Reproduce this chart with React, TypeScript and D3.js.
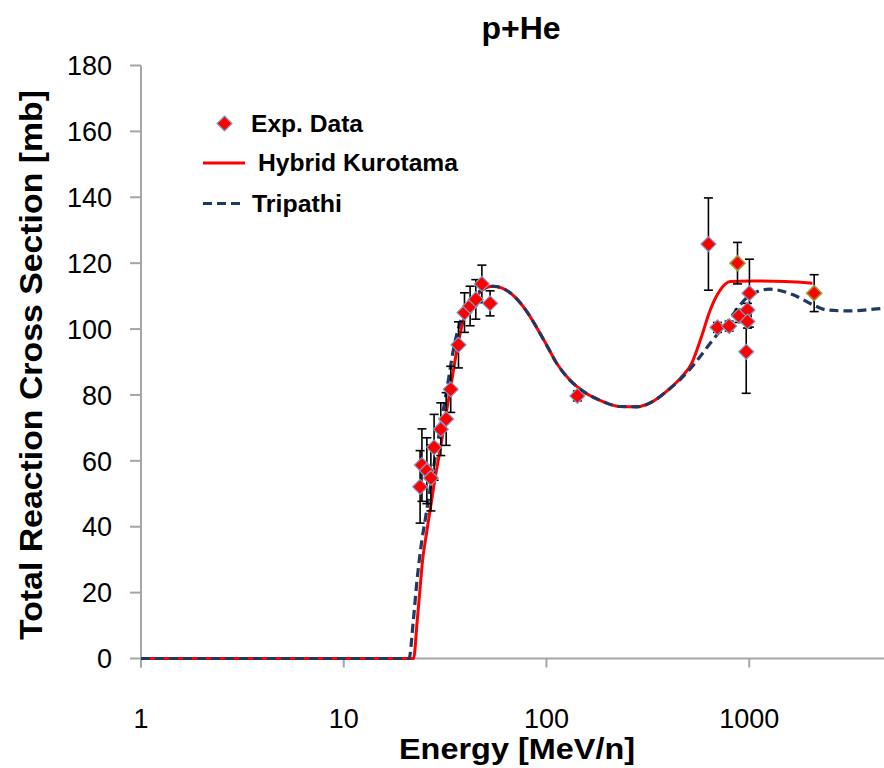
import React from 'react';
import * as d3 from 'd3';

// ---- Data ----
const expEnergy = [23.8, 24.3, 25.7, 26.9, 27.9, 30.1, 32.0, 33.7, 36.8, 39.4, 42.0, 44.8, 48.0, 52.7, 142, 629, 697, 796, 891, 980, 980, 1002, 966];
const expSigma = [52.1, 58.7, 57.0, 54.8, 64.1, 69.6, 72.7, 81.7, 95.2, 105.0, 107.0, 109.0, 113.7, 107.8, 79.7, 125.8, 100.5, 100.9, 104.0, 105.8, 102.3, 110.9, 93.1];
const expError = [11, 11, 10, 10, 10, 8, 8, 7, 7, 6, 6, 6, 5.7, 3.8, 1.5, 14, 1.5, 1.5, 2, 2, 2, 10.3, 12.6];

const exp2Energy = [875, 2090];
const exp2Sigma = [120.0, 110.9];
const exp2Error = [6.3, 5.6];

const kurotamaE = [1, 22.1, 23, 24, 24.5, 25.3, 26.2, 28, 30, 32, 33.5, 36.6, 39.5, 44.4, 49.8, 54, 60, 70, 80, 90, 100, 112, 130, 150, 180, 230, 280, 330, 400, 460, 520, 580, 642, 720, 806, 1000, 1500, 2050];
const kurotamaV = [0, 0, 11, 24, 30, 36, 42, 53.5, 64, 74.5, 81.5, 95.5, 104, 109.4, 112.4, 113, 112.5, 109.7, 105.3, 100.2, 95.2, 89.7, 84.6, 81.3, 78.6, 76.5, 76.4, 77.8, 81.6, 85.2, 89.6, 97.5, 105.8, 111.9, 114.4, 114.6, 114.4, 113.9];

const tripathiE = [1, 21, 22, 23, 23.6, 24.3, 25.2, 27, 28.8, 30.8, 32.2, 35.2, 38.5, 43.5, 49.5, 55, 60, 70, 80, 90, 100, 112, 130, 150, 180, 230, 280, 330, 400, 460, 520, 580, 642, 720, 806, 990, 1263, 1647, 2070, 2410, 3040, 4660, 5000];
const tripathiV = [0, 0, 11, 24, 30, 36, 42, 53.5, 64, 74.5, 81.5, 95.5, 104, 109.4, 112.4, 113, 112.5, 109.7, 105.3, 100.2, 95.2, 89.7, 84.6, 81.3, 78.6, 76.5, 76.4, 77.8, 81.6, 84.9, 88.4, 92.1, 95.7, 99.5, 103.3, 109.9, 112.1, 110.4, 107.3, 105.8, 105.5, 106.3, 106.4];

const yTicks = [0, 20, 40, 60, 80, 100, 120, 140, 160, 180];
const xTicks = [1, 10, 100, 1000];

const W = 884;
const H = 768;

export default function App() {
  const x = d3.scaleLog().domain([1, 10000]).range([141, 952]);
  const y = d3.scaleLinear().domain([0, 180]).range([658.5, 65.5]);

  const line = d3
    .line<[number, number]>()
    .x((d) => x(d[0]))
    .y((d) => y(d[1]))
    .curve(d3.curveMonotoneX);

  const kuro = kurotamaE.map((e, i) => [e, kurotamaV[i]] as [number, number]);
  const trip = tripathiE.map((e, i) => [e, tripathiV[i]] as [number, number]);

  const diamond = (cx: number, cy: number, r: number) =>
    `M${cx},${cy - r}L${cx + r},${cy}L${cx},${cy + r}L${cx - r},${cy}Z`;

  const pts1 = expEnergy.map((e, i) => ({ e, v: expSigma[i], err: expError[i] }));
  const pts2 = exp2Energy.map((e, i) => ({ e, v: exp2Sigma[i], err: exp2Error[i] }));
  const all = [...pts1, ...pts2];

  const font = 'Liberation Sans, Arial, sans-serif';

  return (
    <svg
      width={W}
      height={H}
      style={{ position: 'absolute', left: 0, top: 0, background: '#fff' }}
      fontFamily={font}
    >
      <rect x={0} y={0} width={W} height={H} fill="#fff" />
      {/* title */}
      <text x={521} y={39} textAnchor="middle" fontSize={32} fontWeight="bold" fill="#000">
        p+He
      </text>

      {/* axes */}
      <line x1={x(1)} x2={W} y1={y(0)} y2={y(0)} stroke="#a6a6a6" strokeWidth={2} />
      <line x1={x(1)} x2={x(1)} y1={y(0) + 9} y2={y(180)} stroke="#a6a6a6" strokeWidth={2} />
      {yTicks.map((t) => (
        <g key={'y' + t}>
          <line x1={x(1) - 11} x2={x(1)} y1={y(t)} y2={y(t)} stroke="#a6a6a6" strokeWidth={2} />
          <text x={112} y={y(t)} dy="0.36em" textAnchor="end" fontSize={27} fill="#000">
            {t}
          </text>
        </g>
      ))}
      {xTicks.map((t) => (
        <g key={'x' + t}>
          <line x1={x(t)} x2={x(t)} y1={y(0)} y2={y(0) + 9} stroke="#a6a6a6" strokeWidth={2} />
          <text x={x(t)} y={728} textAnchor="middle" fontSize={27} fill="#000">
            {t}
          </text>
        </g>
      ))}

      {/* axis titles */}
      <text x={517} y={759} textAnchor="middle" fontSize={30} fontWeight="bold" fill="#000" textLength={236} lengthAdjust="spacingAndGlyphs">
        Energy [MeV/n]
      </text>
      <text
        transform={`translate(42,365) rotate(-90)`}
        textAnchor="middle"
        fontSize={32}
        fontWeight="bold"
        fill="#000"
        textLength={550}
        lengthAdjust="spacingAndGlyphs"
      >
        Total Reaction Cross Section [mb]
      </text>

      {/* curves */}
      <path d={line(kuro) || ''} fill="none" stroke="#ff0000" strokeWidth={3} />
      <path d={line(trip) || ''} fill="none" stroke="#1f3864" strokeWidth={3.2} strokeDasharray="9 5" />

      {/* error bars */}
      {all.map((p, i) => (
        <g key={'e' + i} stroke="#000" strokeWidth={1.6}>
          <line x1={x(p.e)} x2={x(p.e)} y1={y(p.v - p.err)} y2={y(p.v + p.err)} />
          <line x1={x(p.e) - 4.5} x2={x(p.e) + 4.5} y1={y(p.v - p.err)} y2={y(p.v - p.err)} />
          <line x1={x(p.e) - 4.5} x2={x(p.e) + 4.5} y1={y(p.v + p.err)} y2={y(p.v + p.err)} />
        </g>
      ))}

      {/* markers */}
      {pts1.map((p, i) => (
        <path key={'m' + i} d={diamond(x(p.e), y(p.v), 7.5)} fill="#ff0000" stroke="#7f9cc4" strokeWidth={1.2} />
      ))}
      {pts2.map((p, i) => (
        <path key={'n' + i} d={diamond(x(p.e), y(p.v), 7.5)} fill="#ff0000" stroke="#9a9a3a" strokeWidth={1.6} />
      ))}

      {/* legend */}
      <path d={diamond(224.5, 123.5, 7.5)} fill="#ff0000" stroke="#7f9cc4" strokeWidth={1.2} />
      <text x={251} y={123.5} dy="0.35em" fontSize={24} fontWeight="bold" fill="#000" textLength={112} lengthAdjust="spacingAndGlyphs">
        Exp. Data
      </text>
      <line x1={203} x2={245} y1={163} y2={163} stroke="#ff0000" strokeWidth={3} />
      <text x={258} y={163} dy="0.35em" fontSize={24} fontWeight="bold" fill="#000" textLength={200} lengthAdjust="spacingAndGlyphs">
        Hybrid Kurotama
      </text>
      <line x1={203} x2={242} y1={203.5} y2={203.5} stroke="#1f3864" strokeWidth={3.2} strokeDasharray="9 5" />
      <text x={252} y={203.5} dy="0.35em" fontSize={24} fontWeight="bold" fill="#000" textLength={90} lengthAdjust="spacingAndGlyphs">
        Tripathi
      </text>
    </svg>
  );
}
